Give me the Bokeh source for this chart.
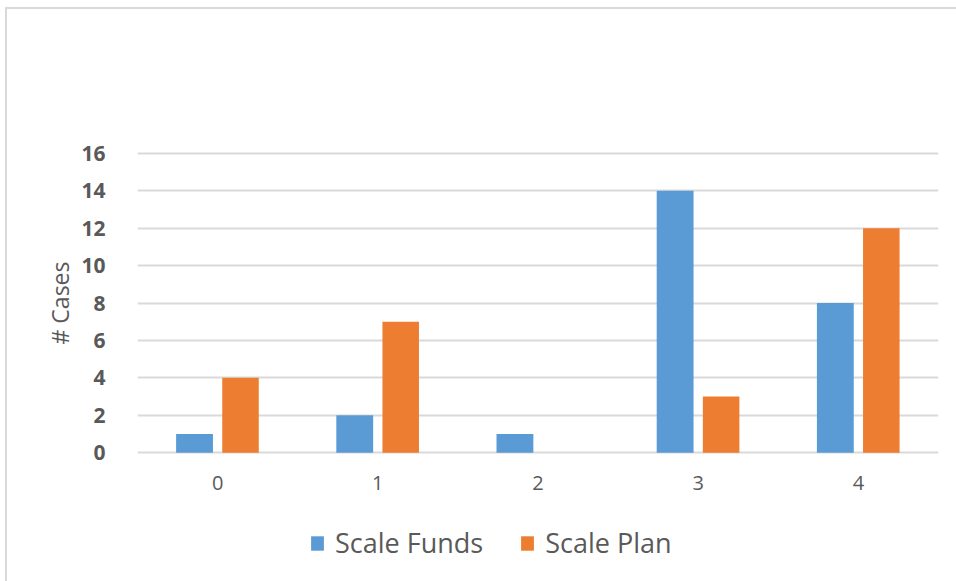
from bokeh.plotting import figure
from bokeh.layouts import column
from bokeh.models import (FactorRange, Range1d, Legend, LegendItem,
                          FixedTicker, ColumnDataSource)
from bokeh.transform import dodge
from bokeh.embed import file_html
from bokeh.resources import INLINE

# Number of cases per scale score
categories = ["0", "1", "2", "3", "4"]
scale_funds = [1, 2, 1, 14, 8]
scale_plan = [4, 7, 0, 3, 12]
y_ticks = [0, 2, 4, 6, 8, 10, 12, 14, 16]
series_names = ["Scale Funds", "Scale Plan"]

BLUE = "#5B9BD5"
ORANGE = "#ED7D31"
GRID = "#D9D9D9"
TEXT = "#595959"
FONT = "Open Sans"

source = ColumnDataSource(dict(cat=categories, funds=scale_funds, plan=scale_plan))

p = figure(
    width=949, height=500,
    x_range=FactorRange(*categories, range_padding=0),
    y_range=Range1d(-0.1, 16.1),
    output_backend="svg", toolbar_location=None,
    min_border_left=130, min_border_right=18,
    min_border_top=142, min_border_bottom=55,
)
p.background_fill_color = "white"
p.border_fill_color = "white"
p.outline_line_color = None

p.vbar(x=dodge("cat", -0.144, range=p.x_range), top="funds", width=0.23,
       source=source, fill_color=BLUE, line_color=None)
p.vbar(x=dodge("cat", 0.143, range=p.x_range), top="plan", width=0.228,
       source=source, fill_color=ORANGE, line_color=None)

# grid
p.xgrid.visible = False
p.ygrid.ticker = FixedTicker(ticks=y_ticks)
p.ygrid.grid_line_color = GRID
p.ygrid.grid_line_width = 2

# y axis
p.yaxis.ticker = FixedTicker(ticks=y_ticks)
p.yaxis.axis_line_color = None
p.yaxis.major_tick_line_color = None
p.yaxis.minor_tick_line_color = None
p.yaxis.major_label_text_font = FONT
p.yaxis.major_label_text_font_size = "21px"
p.yaxis.major_label_text_font_style = "bold"
p.yaxis.major_label_text_color = TEXT
p.yaxis.major_label_standoff = 26
p.yaxis.axis_label = "# Cases"
p.yaxis.axis_label_text_font = FONT
p.yaxis.axis_label_text_font_size = "23px"
p.yaxis.axis_label_text_font_style = "normal"
p.yaxis.axis_label_text_color = TEXT
p.yaxis.axis_label_standoff = 2

# x axis
p.xaxis.axis_line_color = None
p.xaxis.major_tick_line_color = None
p.xaxis.minor_tick_line_color = None
p.xaxis.major_label_text_font = FONT
p.xaxis.major_label_text_font_size = "20px"
p.xaxis.major_label_text_color = TEXT
p.xaxis.major_label_standoff = 15

# legend strip under the chart
leg = figure(
    width=949, height=72, x_axis_type=None, y_axis_type=None,
    output_backend="svg", toolbar_location=None,
    min_border=0,
)
leg.outline_line_color = None
leg.grid.visible = False
leg.background_fill_color = "white"
leg.border_fill_color = "white"
# hidden key renderers: only their legend swatches are shown
key_funds = leg.vbar(x="funds", top="funds", width=0.5, source=source,
                     fill_color=BLUE, line_color=None, visible=False)
key_plan = leg.vbar(x="plan", top="plan", width=0.5, source=source,
                    fill_color=ORANGE, line_color=None, visible=False)

legend = Legend(
    items=[LegendItem(label=series_names[0], renderers=[key_funds]),
           LegendItem(label=series_names[1], renderers=[key_plan])],
    location=(172, 20), orientation="horizontal",
    glyph_width=16, glyph_height=18, label_standoff=10, spacing=36,
    padding=0, margin=0, border_line_color=None, background_fill_alpha=0,
    label_text_font=FONT, label_text_font_size="27px", label_text_color=TEXT,
)
leg.add_layout(legend)

# chart area with a light frame along its top and left edges
layout = column(p, leg, spacing=0, margin=(7, 0, 0, 5),
                styles={"border-top": "2px solid #D9D9D9",
                        "border-left": "2px solid #D9D9D9"})

open("out.html", "w").write(file_html(layout, INLINE))
